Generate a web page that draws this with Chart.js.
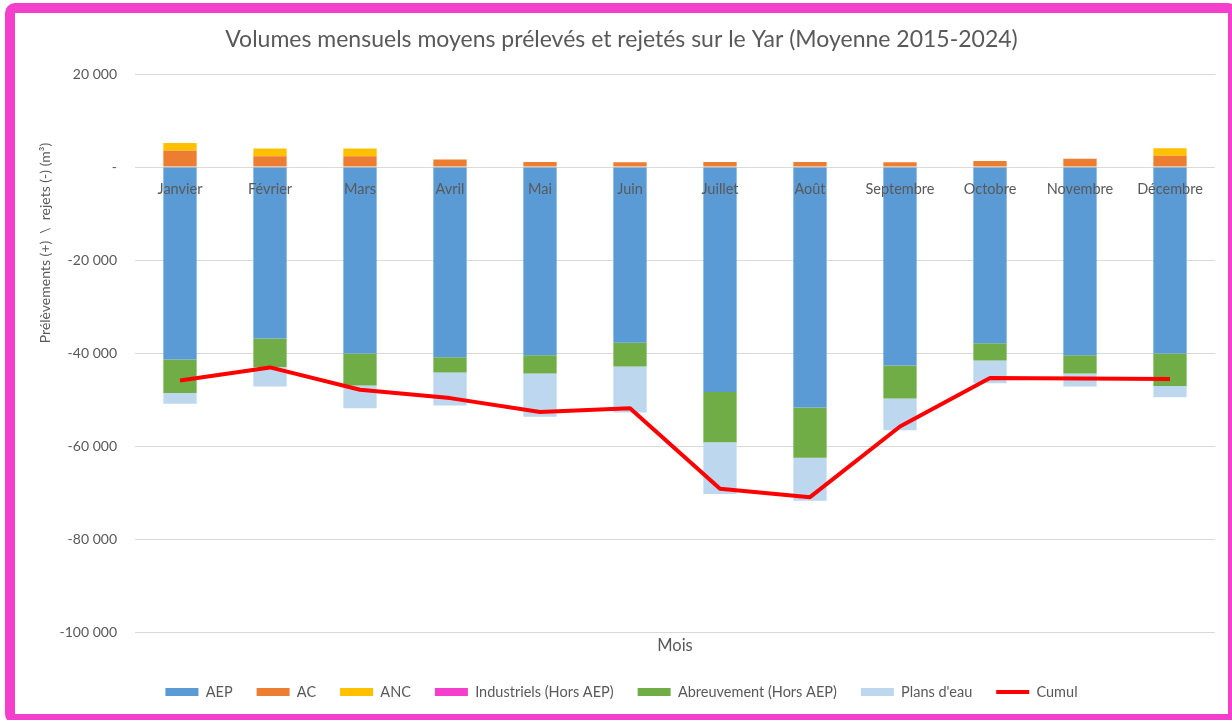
<!DOCTYPE html>
<html>
<head>
<meta charset="utf-8">
<script src="https://cdn.jsdelivr.net/npm/chart.js@4.4.1/dist/chart.umd.min.js"></script>
<style>
  html, body { margin: 0; padding: 0; background: #ffffff; overflow: hidden; width: 1232px; height: 720px; }
  #wrap { position: absolute; left: 0; top: 0; width: 1232px; height: 720px; }
  #frame { position: absolute; left: 5px; top: 3px; width: 1233px; height: 721px; box-sizing: border-box;
           border: 10px solid #F43FCC; border-radius: 10px; pointer-events: none; }
</style>
</head>
<body>
<div id="wrap"><canvas id="c" width="1232" height="720"></canvas></div>
<div id="frame"></div>
<script>
// ---- Data (m³) ----
const categories = ['Janvier', 'Février', 'Mars', 'Avril', 'Mai', 'Juin', 'Juillet', 'Août', 'Septembre', 'Octobre', 'Novembre', 'Décembre'];
const aep = [-41400, -36900, -40100, -40900, -40500, -37800, -48400, -51700, -42700, -37900, -40500, -40100];
const ac = [3500, 2300, 2300, 1600, 1050, 1000, 1100, 1100, 1000, 1300, 1800, 2400];
const anc = [1650, 1700, 1700, 0, 0, 0, 0, 0, 0, 0, 0, 1650];
const industriels = [0, 0, 0, 0, 0, 0, 0, 0, 0, 0, 0, 0];
const abreuvement = [-7200, -6100, -6900, -3300, -3900, -5100, -10800, -10800, -7100, -3700, -3900, -7000];
const plansEau = [-2300, -4200, -4900, -7100, -9300, -9900, -11100, -9300, -6800, -4900, -2800, -2400];
const cumul = [-45900, -43100, -47900, -49700, -52700, -51900, -69200, -71000, -55800, -45400, -45500, -45600];

const titleText = 'Volumes mensuels moyens prélevés et rejetés sur le Yar (Moyenne 2015-2024)';
const yTitleText = 'Prélèvements (+)  \\  rejets (-) (m³)';
const xTitleText = 'Mois';

const FONT = 'Lato, "Open Sans", "DejaVu Sans", sans-serif';
const TXT = '#595959';

function fmt(v) {
  if (v === 0) return '-';
  const s = Math.abs(v).toString().replace(/\B(?=(\d{3})+(?!\d))/g, '\u00a0');
  return (v < 0 ? '-' : '') + s;
}

const yTitlePlugin = {
  id: 'yTitle',
  afterDraw(chart) {
    const ctx = chart.ctx;
    ctx.save();
    ctx.translate(45, 243);
    ctx.rotate(-Math.PI / 2);
    ctx.font = '14px ' + FONT;
    ctx.fillStyle = TXT;
    ctx.textAlign = 'center';
    ctx.textBaseline = 'middle';
    ctx.fillText(yTitleText, 0, 0);
    ctx.restore();
  }
};

function bar(label, data, color) {
  return { type: 'bar', label, data, backgroundColor: color, borderWidth: 0, order: 1, stack: 's',
           categoryPercentage: 1.0, barPercentage: 0.37 };
}

new Chart(document.getElementById('c'), {
  type: 'bar',
  data: {
    labels: categories,
    datasets: [
      bar('AEP', aep, '#5B9BD5'),
      bar('AC', ac, '#ED7D31'),
      bar('ANC', anc, '#FFC000'),
      bar('Industriels (Hors AEP)', industriels, '#F43FCC'),
      bar('Abreuvement (Hors AEP)', abreuvement, '#70AD47'),
      bar("Plans d'eau", plansEau, '#BDD7EE'),
      { type: 'line', label: 'Cumul', data: cumul, borderColor: '#FF0000', backgroundColor: '#FF0000',
        borderWidth: 4, pointRadius: 0, tension: 0, order: 0, stack: 'cumul', borderJoinStyle: 'round' }
    ]
  },
  options: {
    responsive: false,
    animation: false,
    layout: { padding: { left: 14, right: 3, top: 0, bottom: 10.75 } },
    plugins: {
      title: { display: true, text: titleText, color: TXT, font: { family: FONT, size: 23, weight: 'normal' },
               padding: { top: 26.2, bottom: 20.2 } },
      legend: {
        position: 'bottom',
        labels: { color: TXT, font: { family: FONT, size: 14.5 }, boxWidth: 33, boxHeight: 8, padding: 24,
                  usePointStyle: true, pointStyleWidth: 33,
                  sort: (a, b) => a.datasetIndex - b.datasetIndex,
                  generateLabels(chart) {
                    const items = Chart.defaults.plugins.legend.labels.generateLabels(chart);
                    items.forEach(it => {
                      const ds = chart.data.datasets[it.datasetIndex];
                      if (ds.type === 'line') {
                        it.pointStyle = 'line';
                        it.lineWidth = 4;
                        it.strokeStyle = '#FF0000';
                      } else {
                        it.pointStyle = 'rect';
                        it.lineWidth = 0;
                      }
                    });
                    return items;
                  } }
      },
      tooltip: { enabled: false }
    },
    scales: {
      x: {
        type: 'category',
        position: { y: 0 },
        stacked: true,
        offset: true,
        grid: { display: false, drawTicks: false },
        border: { display: false },
        ticks: { z: 1, color: TXT, font: { family: FONT, size: 14.5 }, padding: 14, maxRotation: 0, autoSkip: false }
      },
      x2: {
        type: 'category',
        position: 'bottom',
        offset: true,
        grid: { display: false, drawTicks: false },
        border: { display: false },
        ticks: { display: false },
        title: { display: true, text: xTitleText, color: TXT, font: { family: FONT, size: 16.5 }, padding: { top: 0, bottom: 5.5 } },
        afterFit(s) { s.height = 28.75; }
      },
      y: {
        stacked: true,
        min: -100000,
        max: 20000,
        ticks: { stepSize: 20000, color: TXT, font: { family: FONT, size: 14 }, padding: 18, callback: v => fmt(v) },
        grid: { color: '#D9D9D9', lineWidth: 1, drawTicks: false },
        border: { display: false },
        afterFit(s) { s.width = 121; }
      },
      yR: {
        type: 'linear',
        position: 'right',
        grid: { display: false, drawTicks: false },
        border: { display: false },
        ticks: { display: false },
        afterFit(s) { s.width = 14; }
      }
    }
  },
  plugins: [yTitlePlugin]
});
</script>
</body>
</html>
